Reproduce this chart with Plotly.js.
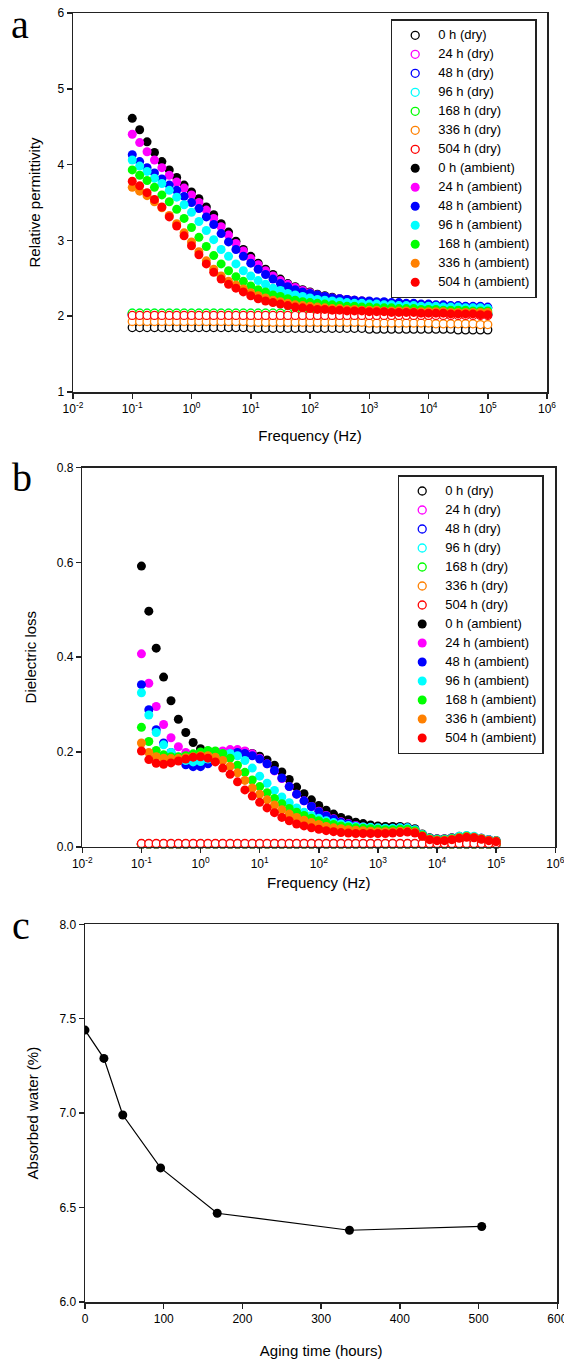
<!DOCTYPE html>
<html>
<head>
<meta charset="utf-8">
<script src="https://cdn.plot.ly/plotly-3.0.1.min.js"></script>
<style>html,body{margin:0;padding:0;background:#fff;}#chart{width:564px;height:1359px;}</style>
</head>
<body>
<div id="chart"></div>
<script>
// ---------- data ----------
const freq = [
 0.1, 0.1334, 0.1778, 0.2371, 0.3162, 0.4217, 0.5623, 0.7499,
 1, 1.334, 1.778, 2.371, 3.162, 4.217, 5.623, 7.499,
 10, 13.34, 17.78, 23.71, 31.62, 42.17, 56.23, 74.99,
 100, 133.4, 177.8, 237.1, 316.2, 421.7, 562.3, 749.9,
 1000, 1334, 1778, 2371, 3162, 4217, 5623, 7499,
 10000, 13340, 17780, 23710, 31620, 42170, 56230, 74990,
 100000];

const sampleLabels = ['0 h', '24 h', '48 h', '96 h', '168 h', '336 h', '504 h'];
const sampleColors = ['#000000', '#FF00FF', '#0000FF', '#00FFFF', '#00FF00', '#FF8000', '#FF0000'];

const freqTickVals = [0.01, 0.1, 1, 10, 100, 1000, 10000, 100000, 1000000];
const freqTickText = ['10<sup>-2</sup>', '10<sup>-1</sup>', '10<sup>0</sup>', '10<sup>1</sup>', '10<sup>2</sup>',
                      '10<sup>3</sup>', '10<sup>4</sup>', '10<sup>5</sup>', '10<sup>6</sup>'];

// Relative permittivity, dry
const permDry0 = [
 1.85,1.85,1.85,1.85,1.85,1.85,1.85,1.85, 1.85,1.85,1.85,1.85,1.85,1.85,1.85,1.85,
 1.84,1.84,1.84,1.84,1.84,1.84,1.84,1.84, 1.84,1.84,1.84,1.84,1.84,1.84,1.84,1.84,
 1.83,1.83,1.83,1.83,1.83,1.83,1.83,1.83, 1.83,1.83,1.83,1.83,1.82,1.82,1.82,1.82, 1.82];
const permDry24 = [
 2.03,2.03,2.03,2.03,2.03,2.03,2.03,2.03, 2.03,2.03,2.03,2.03,2.03,2.03,2.03,2.03,
 2.03,2.03,2.03,2.03,2.03,2.03,2.03,2.03, 2.03,2.03,2.03,2.03,2.03,2.03,2.03,2.03,
 2.02,2.02,2.02,2.02,2.02,2.02,2.02,2.02, 2.02,2.02,2.02,2.02,2.02,2.02,2.02,2.02, 2.02];
const permDry48 = [
 2.02,2.02,2.02,2.02,2.02,2.02,2.02,2.02, 2.02,2.02,2.02,2.02,2.02,2.02,2.02,2.02,
 2.02,2.02,2.02,2.02,2.02,2.02,2.02,2.02, 2.02,2.02,2.02,2.02,2.02,2.02,2.02,2.02,
 2.02,2.02,2.02,2.02,2.02,2.02,2.02,2.02, 2.02,2.02,2.02,2.02,2.02,2.02,2.02,2.02, 2.02];
const permDry96 = [
 2.04,2.04,2.04,2.04,2.04,2.04,2.04,2.04, 2.04,2.04,2.04,2.04,2.04,2.04,2.04,2.04,
 2.04,2.04,2.04,2.04,2.04,2.04,2.04,2.04, 2.04,2.04,2.04,2.04,2.04,2.04,2.04,2.04,
 2.04,2.04,2.04,2.04,2.04,2.04,2.04,2.04, 2.04,2.04,2.04,2.04,2.04,2.04,2.04,2.04, 2.04];
const permDry168 = [
 2.04,2.04,2.04,2.04,2.04,2.04,2.04,2.04, 2.04,2.04,2.04,2.04,2.04,2.04,2.04,2.04,
 2.04,2.04,2.04,2.04,2.04,2.04,2.04,2.04, 2.04,2.04,2.04,2.04,2.04,2.04,2.04,2.04,
 2.03,2.03,2.03,2.03,2.03,2.03,2.03,2.03, 2.03,2.03,2.03,2.03,2.03,2.03,2.03,2.03, 2.03];
const permDry336 = [
 1.93,1.93,1.93,1.93,1.93,1.93,1.93,1.93, 1.93,1.93,1.93,1.93,1.93,1.93,1.93,1.93,
 1.92,1.92,1.92,1.92,1.92,1.92,1.92,1.92, 1.92,1.92,1.92,1.92,1.92,1.92,1.92,1.92,
 1.91,1.91,1.91,1.91,1.91,1.91,1.91,1.91, 1.91,1.90,1.90,1.90,1.90,1.90,1.90,1.89, 1.89];
const permDry504 = [
 2.01,2.01,2.01,2.01,2.01,2.01,2.01,2.01, 2.01,2.01,2.01,2.01,2.01,2.01,2.01,2.01,
 2.01,2.01,2.01,2.01,2.01,2.01,2.01,2.01, 2.01,2.01,2.01,2.01,2.01,2.01,2.01,2.01,
 2.01,2.01,2.01,2.01,2.01,2.01,2.01,2.01, 2.01,2.01,2.01,2.01,2.01,2.01,2.01,2.01, 2.01];

// Relative permittivity, ambient
const permAmb0 = [
 4.61,4.46,4.30,4.16,4.04,3.93,3.83,3.73, 3.64,3.55,3.44,3.34,3.22,3.11,2.99,2.88,
 2.79,2.70,2.62,2.55,2.49,2.43,2.39,2.35, 2.32,2.29,2.27,2.25,2.23,2.22,2.21,2.20,
 2.19,2.18,2.18,2.17,2.17,2.16,2.16,2.15, 2.15,2.14,2.14,2.13,2.13,2.12,2.12,2.11, 2.11];
const permAmb24 = [
 4.40,4.29,4.17,4.06,3.96,3.86,3.77,3.69, 3.60,3.50,3.40,3.29,3.18,3.07,2.96,2.86,
 2.76,2.68,2.60,2.53,2.47,2.42,2.38,2.34, 2.31,2.28,2.26,2.24,2.23,2.22,2.21,2.20,
 2.19,2.18,2.18,2.17,2.17,2.16,2.16,2.15, 2.15,2.14,2.14,2.13,2.13,2.12,2.12,2.12, 2.11];
const permAmb48 = [
 4.13,4.04,3.96,3.89,3.81,3.73,3.66,3.58, 3.50,3.42,3.31,3.21,3.09,2.98,2.88,2.79,
 2.70,2.62,2.55,2.49,2.43,2.39,2.35,2.32, 2.30,2.28,2.26,2.24,2.23,2.22,2.21,2.20,
 2.20,2.19,2.19,2.18,2.18,2.17,2.17,2.16, 2.16,2.15,2.15,2.14,2.14,2.13,2.13,2.13, 2.12];
const permAmb96 = [
 4.06,3.98,3.91,3.82,3.75,3.66,3.57,3.47, 3.37,3.25,3.13,3.01,2.88,2.79,2.69,2.60,
 2.53,2.47,2.42,2.37,2.34,2.30,2.28,2.26, 2.24,2.22,2.21,2.20,2.19,2.18,2.17,2.17,
 2.16,2.16,2.15,2.15,2.14,2.14,2.14,2.13, 2.13,2.13,2.12,2.12,2.12,2.11,2.11,2.11, 2.10];
const permAmb168 = [
 3.93,3.86,3.79,3.70,3.60,3.51,3.41,3.29, 3.17,3.04,2.92,2.80,2.69,2.60,2.52,2.46,
 2.40,2.35,2.32,2.28,2.26,2.23,2.21,2.19, 2.18,2.17,2.16,2.15,2.14,2.13,2.13,2.12,
 2.12,2.11,2.11,2.11,2.10,2.10,2.10,2.09, 2.09,2.09,2.08,2.08,2.08,2.08,2.07,2.07, 2.07];
const permAmb336 = [
 3.70,3.65,3.59,3.51,3.43,3.33,3.22,3.10, 2.98,2.85,2.73,2.62,2.53,2.46,2.41,2.36,
 2.31,2.27,2.24,2.21,2.19,2.17,2.15,2.14, 2.13,2.12,2.11,2.10,2.10,2.09,2.09,2.08,
 2.08,2.08,2.07,2.07,2.07,2.07,2.06,2.06, 2.06,2.06,2.06,2.05,2.05,2.05,2.05,2.05, 2.05];
const permAmb504 = [
 3.78,3.72,3.63,3.54,3.44,3.31,3.19,3.06, 2.93,2.81,2.69,2.58,2.49,2.42,2.37,2.32,
 2.27,2.23,2.20,2.18,2.16,2.14,2.12,2.11, 2.10,2.09,2.09,2.08,2.08,2.07,2.07,2.07,
 2.06,2.06,2.06,2.05,2.05,2.05,2.05,2.04, 2.04,2.04,2.04,2.03,2.03,2.03,2.03,2.02, 2.02];

// Dielectric loss, dry
const lossDry0 = [
 0.005,0.005,0.005,0.005,0.005,0.005,0.005,0.005, 0.005,0.005,0.005,0.005,0.005,0.005,0.005,0.005,
 0.005,0.005,0.005,0.005,0.005,0.005,0.005,0.005, 0.005,0.005,0.005,0.005,0.005,0.005,0.005,0.005,
 0.005,0.005,0.005,0.005,0.005,0.005,0.005,0.005, 0.005,0.005,0.005,0.005,0.005,0.005,0.005,0.005, 0.005];
const lossDry24 = [
 0.006,0.006,0.006,0.006,0.006,0.006,0.006,0.006, 0.006,0.006,0.006,0.006,0.006,0.006,0.006,0.006,
 0.006,0.006,0.006,0.006,0.006,0.006,0.006,0.006, 0.006,0.006,0.006,0.006,0.006,0.006,0.006,0.006,
 0.006,0.006,0.006,0.006,0.006,0.006,0.006,0.006, 0.006,0.006,0.006,0.006,0.006,0.006,0.006,0.006, 0.006];
const lossDry48 = [
 0.006,0.006,0.006,0.006,0.006,0.006,0.006,0.006, 0.006,0.006,0.006,0.006,0.006,0.006,0.006,0.006,
 0.006,0.006,0.006,0.006,0.006,0.006,0.006,0.006, 0.006,0.006,0.006,0.006,0.006,0.006,0.006,0.006,
 0.006,0.006,0.006,0.006,0.006,0.006,0.006,0.006, 0.006,0.006,0.006,0.006,0.006,0.006,0.006,0.006, 0.006];
const lossDry96 = [
 0.006,0.006,0.006,0.006,0.006,0.006,0.006,0.006, 0.006,0.006,0.006,0.006,0.006,0.006,0.006,0.006,
 0.006,0.006,0.006,0.006,0.006,0.006,0.006,0.006, 0.006,0.006,0.006,0.006,0.006,0.006,0.006,0.006,
 0.006,0.006,0.006,0.006,0.006,0.006,0.006,0.006, 0.006,0.006,0.006,0.006,0.006,0.006,0.006,0.006, 0.006];
const lossDry168 = [
 0.006,0.006,0.006,0.006,0.006,0.006,0.006,0.006, 0.006,0.006,0.006,0.006,0.006,0.006,0.006,0.006,
 0.006,0.006,0.006,0.006,0.006,0.006,0.006,0.006, 0.006,0.006,0.006,0.006,0.006,0.006,0.006,0.006,
 0.006,0.006,0.006,0.006,0.006,0.006,0.006,0.006, 0.006,0.006,0.006,0.006,0.006,0.006,0.006,0.006, 0.006];
const lossDry336 = [
 0.006,0.006,0.006,0.006,0.006,0.006,0.006,0.006, 0.006,0.006,0.006,0.006,0.006,0.006,0.006,0.006,
 0.006,0.006,0.006,0.006,0.006,0.006,0.006,0.006, 0.006,0.006,0.006,0.006,0.006,0.006,0.006,0.006,
 0.006,0.006,0.006,0.006,0.006,0.006,0.006,0.006, 0.006,0.006,0.006,0.006,0.006,0.006,0.006,0.006, 0.006];
const lossDry504 = [
 0.007,0.007,0.007,0.007,0.007,0.007,0.007,0.007, 0.007,0.007,0.007,0.007,0.007,0.007,0.007,0.007,
 0.007,0.007,0.007,0.007,0.007,0.007,0.007,0.007, 0.007,0.007,0.007,0.007,0.007,0.007,0.007,0.007,
 0.007,0.007,0.007,0.007,0.007,0.007,0.007,0.007, 0.007,0.007,0.007,0.007,0.007,0.007,0.007,0.007, 0.007];

// Dielectric loss, ambient
const lossAmb0 = [
 0.592,0.497,0.419,0.358,0.308,0.269,0.241,0.220, 0.207,0.201,0.199,0.200,0.201,0.202,0.201,0.197,
 0.191,0.183,0.172,0.158,0.142,0.126,0.112,0.099, 0.087,0.077,0.069,0.062,0.057,0.052,0.049,0.046,
 0.044,0.043,0.043,0.043,0.042,0.038,0.027,0.019, 0.017,0.017,0.019,0.022,0.023,0.021,0.018,0.015, 0.013];
const lossAmb24 = [
 0.407,0.345,0.296,0.258,0.230,0.211,0.199,0.192, 0.190,0.192,0.197,0.202,0.205,0.205,0.202,0.196,
 0.187,0.175,0.160,0.144,0.127,0.111,0.097,0.085, 0.075,0.066,0.059,0.053,0.049,0.045,0.042,0.040,
 0.038,0.037,0.037,0.038,0.038,0.035,0.025,0.018, 0.016,0.016,0.018,0.021,0.022,0.021,0.018,0.015, 0.012];
const lossAmb48 = [
 0.342,0.289,0.247,0.219,0.199,0.183,0.173,0.169, 0.169,0.175,0.183,0.190,0.196,0.199,0.197,0.192,
 0.185,0.175,0.161,0.145,0.127,0.111,0.097,0.085, 0.074,0.065,0.058,0.052,0.048,0.044,0.041,0.039,
 0.038,0.038,0.039,0.040,0.040,0.036,0.026,0.018, 0.016,0.016,0.018,0.021,0.023,0.021,0.018,0.015, 0.013];
const lossAmb96 = [
 0.325,0.278,0.241,0.215,0.199,0.189,0.182,0.179, 0.180,0.185,0.191,0.196,0.197,0.192,0.182,0.166,
 0.149,0.134,0.119,0.105,0.093,0.082,0.073,0.066, 0.060,0.055,0.051,0.048,0.045,0.043,0.042,0.041,
 0.040,0.039,0.039,0.040,0.040,0.036,0.026,0.018, 0.016,0.016,0.018,0.022,0.024,0.022,0.018,0.015, 0.013];
const lossAmb168 = [
 0.252,0.222,0.203,0.194,0.190,0.190,0.192,0.196, 0.200,0.203,0.202,0.197,0.187,0.172,0.157,0.141,
 0.127,0.114,0.102,0.091,0.081,0.073,0.066,0.060, 0.055,0.051,0.047,0.044,0.042,0.040,0.039,0.038,
 0.037,0.036,0.036,0.037,0.037,0.034,0.025,0.017, 0.015,0.015,0.017,0.020,0.022,0.020,0.017,0.014, 0.012];
const lossAmb336 = [
 0.219,0.199,0.190,0.187,0.186,0.186,0.188,0.190, 0.192,0.192,0.189,0.182,0.170,0.156,0.140,0.124,
 0.111,0.099,0.088,0.078,0.069,0.062,0.056,0.051, 0.047,0.043,0.040,0.038,0.036,0.035,0.034,0.033,
 0.032,0.032,0.032,0.033,0.033,0.031,0.023,0.016, 0.014,0.014,0.016,0.019,0.021,0.020,0.017,0.014, 0.012];
const lossAmb504 = [
 0.202,0.184,0.176,0.174,0.177,0.181,0.185,0.189, 0.190,0.187,0.179,0.166,0.153,0.137,0.120,0.107,
 0.094,0.082,0.072,0.062,0.055,0.048,0.044,0.040, 0.037,0.034,0.032,0.030,0.029,0.028,0.028,0.028,
 0.028,0.028,0.029,0.030,0.031,0.029,0.022,0.015, 0.013,0.013,0.015,0.018,0.020,0.019,0.016,0.013, 0.011];

// Absorbed water vs aging time
const agingHours = [0, 24, 48, 96, 168, 336, 504];
const absorbedWater = [7.44, 7.29, 6.99, 6.71, 6.47, 6.38, 6.40];

// ---------- traces ----------
const permDry = [permDry0, permDry24, permDry48, permDry96, permDry168, permDry336, permDry504];
const permAmb = [permAmb0, permAmb24, permAmb48, permAmb96, permAmb168, permAmb336, permAmb504];
const lossDry = [lossDry0, lossDry24, lossDry48, lossDry96, lossDry168, lossDry336, lossDry504];
const lossAmb = [lossAmb0, lossAmb24, lossAmb48, lossAmb96, lossAmb168, lossAmb336, lossAmb504];

const MS = 9;
const legendName = s => '<span style="font-size:13px">' + s + '</span>';

function makeSet(dry, amb, xa, ya, leg) {
  const out = [];
  for (let k = 0; k < 7; k++) {
    out.push({
      type: 'scatter', mode: 'markers', x: freq, y: dry[k], xaxis: xa, yaxis: ya, legend: leg,
      name: legendName(sampleLabels[k] + ' (dry)'), cliponaxis: false,
      marker: {symbol: 'circle', size: MS - 1, color: '#ffffff', line: {color: sampleColors[k], width: 1.3}}
    });
  }
  for (let k = 0; k < 7; k++) {
    out.push({
      type: 'scatter', mode: 'markers', x: freq, y: amb[k], xaxis: xa, yaxis: ya, legend: leg,
      name: legendName(sampleLabels[k] + ' (ambient)'), cliponaxis: false,
      marker: {symbol: 'circle', size: MS, color: sampleColors[k], line: {width: 0}}
    });
  }
  return out;
}

const traces = []
  .concat(makeSet(permDry, permAmb, 'x', 'y', 'legend'))
  .concat(makeSet(lossDry, lossAmb, 'x2', 'y2', 'legend2'));

traces.push({
  type: 'scatter', mode: 'lines+markers', x: agingHours, y: absorbedWater, xaxis: 'x3', yaxis: 'y3',
  showlegend: false, line: {color: '#000000', width: 1.2},
  marker: {symbol: 'circle', size: 9, color: '#000000'}
});

// ---------- layout ----------
const W = 564, H = 1359;
const px = v => v / W;
const py = v => (H - v) / H;
const FONT = 'Liberation Sans, Arial, sans-serif';
const SERIF = 'Liberation Serif, Times New Roman, serif';
const AX = '#222222';

function baseAxis(extra) {
  return Object.assign({
    showline: true, linecolor: AX, linewidth: 1.5, mirror: true,
    ticks: 'outside', ticklen: 5, tickwidth: 1.5, tickcolor: AX,
    showgrid: false, zeroline: false, automargin: false, ticklabeloverflow: 'allow',
    tickfont: {family: FONT, size: 12, color: '#000'}
  }, extra);
}

const legendBase = {
  xanchor: 'left', yanchor: 'top', bgcolor: '#ffffff', bordercolor: AX, borderwidth: 1.5,
  font: {family: FONT, size: 10, color: '#000'}, itemwidth: 36, tracegroupgap: 0,
  itemclick: false, itemdoubleclick: false
};

const layout = {
  width: W, height: H,
  margin: {l: 0, r: 0, t: 0, b: 0},
  paper_bgcolor: '#ffffff', plot_bgcolor: '#ffffff',
  font: {family: FONT, color: '#000'},
  showlegend: true,
  xaxis: baseAxis({
    type: 'log', range: [-2, 6], domain: [px(73), px(547)], anchor: 'y',
    tickvals: freqTickVals, ticktext: freqTickText,
    title: {text: 'Frequency (Hz)', font: {family: FONT, size: 15}, standoff: 15}
  }),
  yaxis: baseAxis({
    range: [1, 6], dtick: 1, tick0: 1, domain: [py(392), py(13)], anchor: 'x',
    title: {text: 'Relative permittivity', font: {family: FONT, size: 15}, standoff: 13}
  }),
  xaxis2: baseAxis({
    type: 'log', range: [-2, 6], domain: [px(82.3), px(555.3)], anchor: 'y2',
    tickvals: freqTickVals, ticktext: freqTickText,
    title: {text: 'Frequency (Hz)', font: {family: FONT, size: 15}, standoff: 8}
  }),
  yaxis2: baseAxis({
    range: [0, 0.8], dtick: 0.2, tick0: 0, tickformat: '.1f', domain: [py(846.8), py(467.5)], anchor: 'x2',
    title: {text: 'Dielectric loss', font: {family: FONT, size: 15}, standoff: 16}
  }),
  xaxis3: baseAxis({
    range: [0, 600], dtick: 100, tick0: 0, domain: [px(85), px(557.3)], anchor: 'y3',
    title: {text: 'Aging time (hours)', font: {family: FONT, size: 15}, standoff: 20}
  }),
  yaxis3: baseAxis({
    range: [6, 8], dtick: 0.5, tick0: 6, tickformat: '.1f', domain: [py(1302), py(924.3)], anchor: 'x3',
    title: {text: 'Absorbed water (%)', font: {family: FONT, size: 15}, standoff: 17}
  }),
  legend: Object.assign({}, legendBase, {x: px(390.7), y: py(19.3)}),
  legend2: Object.assign({}, legendBase, {x: px(397.7), y: py(475)}),
  annotations: [
    {text: 'a', x: px(20), y: py(0), xref: 'paper', yref: 'paper', xanchor: 'center', yanchor: 'top',
     showarrow: false, font: {family: SERIF, size: 40, color: '#000'}},
    {text: 'b', x: px(22), y: py(477), xref: 'paper', yref: 'paper', xanchor: 'center', yanchor: 'middle',
     showarrow: false, font: {family: SERIF, size: 40, color: '#000'}},
    {text: 'c', x: px(21), y: py(925), xref: 'paper', yref: 'paper', xanchor: 'center', yanchor: 'middle',
     showarrow: false, font: {family: SERIF, size: 40, color: '#000'}}
  ]
};

Plotly.newPlot('chart', traces, layout, {staticPlot: true, displayModeBar: false});
</script>
</body>
</html>
